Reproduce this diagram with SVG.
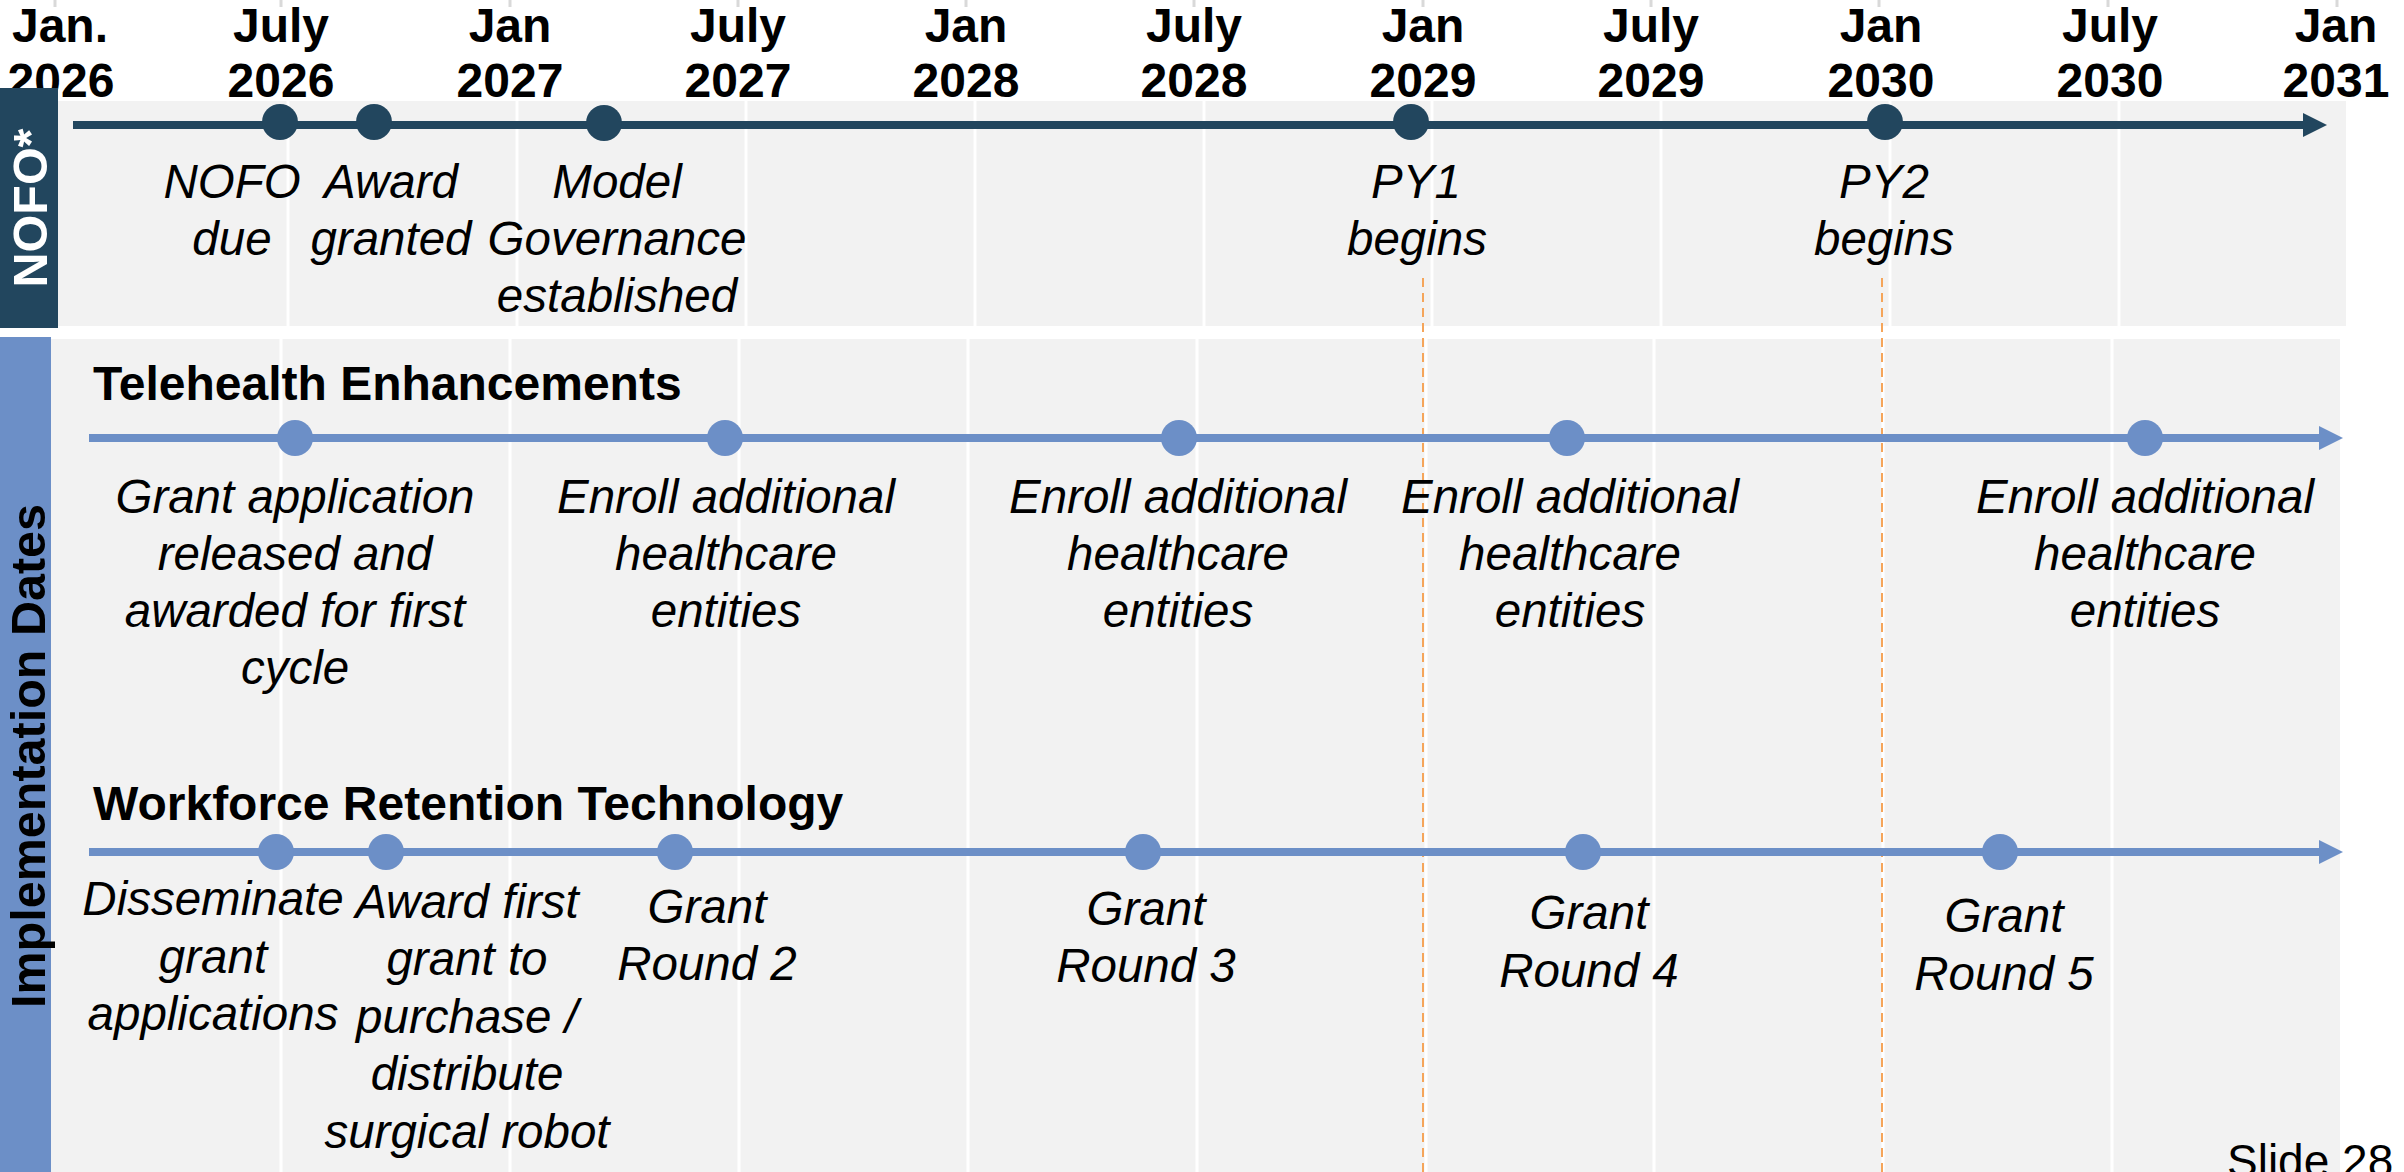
<svg xmlns="http://www.w3.org/2000/svg" width="2404" height="1172" viewBox="0 0 2404 1172">
<style>
.hdr{font-family:"Liberation Sans",Arial,sans-serif;font-weight:bold;font-size:48px;fill:#000;text-anchor:middle}
.lbl{font-family:"Liberation Sans",Arial,sans-serif;font-style:italic;font-size:47.5px;fill:#000;text-anchor:middle}
.ttl{font-family:"Liberation Sans",Arial,sans-serif;font-weight:bold;font-size:48px;fill:#000}
.side{font-family:"Liberation Sans",Arial,sans-serif;font-weight:bold;font-size:48.5px;text-anchor:middle}
.grid{stroke:#ffffff;stroke-width:3}
.tick{stroke:#D9D9D9;stroke-width:3}
.dash{stroke:#F5A55A;stroke-width:2;stroke-dasharray:9 6}
.dk{fill:#22465E}
.bl{fill:#6C8FC7}
</style>
<defs>
<marker id="arrDk" markerUnits="userSpaceOnUse" markerWidth="24" markerHeight="24" refX="0" refY="12" orient="auto"><path d="M0,0 L24,12 L0,24 z" fill="#22465E"/></marker>
<marker id="arrBl" markerUnits="userSpaceOnUse" markerWidth="24" markerHeight="24" refX="0" refY="12" orient="auto"><path d="M0,0 L24,12 L0,24 z" fill="#6C8FC7"/></marker>
</defs>
<rect width="2404" height="1172" fill="#ffffff"/>

<g id="header">
<line class="tick" x1="55" y1="0" x2="55" y2="7"/>
<line class="tick" x1="281" y1="0" x2="281" y2="7"/>
<line class="tick" x1="510" y1="0" x2="510" y2="7"/>
<line class="tick" x1="738" y1="0" x2="738" y2="7"/>
<line class="tick" x1="966" y1="0" x2="966" y2="7"/>
<line class="tick" x1="1194" y1="0" x2="1194" y2="7"/>
<line class="tick" x1="1423" y1="0" x2="1423" y2="7"/>
<line class="tick" x1="1651" y1="0" x2="1651" y2="7"/>
<line class="tick" x1="1879" y1="0" x2="1879" y2="7"/>
<line class="tick" x1="2108" y1="0" x2="2108" y2="7"/>
<line class="tick" x1="2337" y1="0" x2="2337" y2="7"/>
<text class="hdr" x="60" y="42">Jan.</text><text class="hdr" x="61" y="97">2026</text>
<text class="hdr" x="281" y="42">July</text><text class="hdr" x="281" y="97">2026</text>
<text class="hdr" x="510" y="42">Jan</text><text class="hdr" x="510" y="97">2027</text>
<text class="hdr" x="738" y="42">July</text><text class="hdr" x="738" y="97">2027</text>
<text class="hdr" x="966" y="42">Jan</text><text class="hdr" x="966" y="97">2028</text>
<text class="hdr" x="1194" y="42">July</text><text class="hdr" x="1194" y="97">2028</text>
<text class="hdr" x="1423" y="42">Jan</text><text class="hdr" x="1423" y="97">2029</text>
<text class="hdr" x="1651" y="42">July</text><text class="hdr" x="1651" y="97">2029</text>
<text class="hdr" x="1881" y="42">Jan</text><text class="hdr" x="1881" y="97">2030</text>
<text class="hdr" x="2110" y="42">July</text><text class="hdr" x="2110" y="97">2030</text>
<text class="hdr" x="2336" y="42">Jan</text><text class="hdr" x="2336" y="97">2031</text>
</g>

<g id="nofo-panel">
<rect x="58" y="101" width="2288" height="225" fill="#F2F2F2"/>
<line class="grid" x1="288" y1="101" x2="288" y2="326"/>
<line class="grid" x1="517" y1="101" x2="517" y2="326"/>
<line class="grid" x1="746" y1="101" x2="746" y2="326"/>
<line class="grid" x1="975" y1="101" x2="975" y2="326"/>
<line class="grid" x1="1204" y1="101" x2="1204" y2="326"/>
<line class="grid" x1="1432" y1="101" x2="1432" y2="326"/>
<line class="grid" x1="1661" y1="101" x2="1661" y2="326"/>
<line class="grid" x1="1890" y1="101" x2="1890" y2="326"/>
<line class="grid" x1="2119" y1="101" x2="2119" y2="326"/>
<rect class="dk" x="0" y="88" width="58" height="240"/>
<text class="side" fill="#ffffff" transform="translate(47,208) rotate(-90)">NOFO*</text>
</g>

<g id="impl-panel">
<rect x="51" y="339" width="2289" height="833" fill="#F2F2F2"/>
<line class="grid" x1="281" y1="339" x2="281" y2="1172"/>
<line class="grid" x1="510" y1="339" x2="510" y2="1172"/>
<line class="grid" x1="739" y1="339" x2="739" y2="1172"/>
<line class="grid" x1="968" y1="339" x2="968" y2="1172"/>
<line class="grid" x1="1197" y1="339" x2="1197" y2="1172"/>
<line class="grid" x1="1426" y1="339" x2="1426" y2="1172"/>
<line class="grid" x1="1654" y1="339" x2="1654" y2="1172"/>
<line class="grid" x1="1883" y1="339" x2="1883" y2="1172"/>
<line class="grid" x1="2112" y1="339" x2="2112" y2="1172"/>
<rect class="bl" x="0" y="337" width="51" height="835"/>
<text class="side" fill="#000000" transform="translate(45,756) rotate(-90)">Implementation Dates</text>
</g>

<g id="py-markers">
<line class="dash" x1="1423" y1="278" x2="1423" y2="1172"/>
<line class="dash" x1="1882" y1="278" x2="1882" y2="1172"/>
</g>

<g id="connectors">
<line x1="73" y1="125" x2="2303" y2="125" stroke="#22465E" stroke-width="8" marker-end="url(#arrDk)"/>
<line x1="89" y1="438" x2="2319" y2="438" stroke="#6C8FC7" stroke-width="8" marker-end="url(#arrBl)"/>
<line x1="89" y1="852" x2="2319" y2="852" stroke="#6C8FC7" stroke-width="8" marker-end="url(#arrBl)"/>
</g>

<g id="nofo-due"><circle class="dk" cx="280" cy="122" r="18"/><text class="lbl" x="232" y="198">NOFO</text><text class="lbl" x="232" y="255">due</text></g>
<g id="award-granted"><circle class="dk" cx="374" cy="122" r="18"/><text class="lbl" x="391" y="198">Award</text><text class="lbl" x="391" y="255">granted</text></g>
<g id="model-governance"><circle class="dk" cx="604" cy="123" r="18"/><text class="lbl" x="617" y="198">Model</text><text class="lbl" x="617" y="255">Governance</text><text class="lbl" x="617" y="312">established</text></g>
<g id="py1"><circle class="dk" cx="1411" cy="122" r="18"/><text class="lbl" x="1416" y="198">PY1</text><text class="lbl" x="1417" y="255">begins</text></g>
<g id="py2"><circle class="dk" cx="1885" cy="122" r="18"/><text class="lbl" x="1884" y="198">PY2</text><text class="lbl" x="1884" y="255">begins</text></g>

<g id="telehealth-title"><text class="ttl" x="93" y="400">Telehealth Enhancements</text></g>
<g id="th-1"><circle class="bl" cx="295" cy="438" r="18"/><text class="lbl" x="295" y="513">Grant application</text><text class="lbl" x="295" y="570">released and</text><text class="lbl" x="295" y="627">awarded for first</text><text class="lbl" x="295" y="684">cycle</text></g>
<g id="th-2"><circle class="bl" cx="725" cy="438" r="18"/><text class="lbl" x="726" y="513">Enroll additional</text><text class="lbl" x="726" y="570">healthcare</text><text class="lbl" x="726" y="627">entities</text></g>
<g id="th-3"><circle class="bl" cx="1179" cy="438" r="18"/><text class="lbl" x="1178" y="513">Enroll additional</text><text class="lbl" x="1178" y="570">healthcare</text><text class="lbl" x="1178" y="627">entities</text></g>
<g id="th-4"><circle class="bl" cx="1567" cy="438" r="18"/><text class="lbl" x="1570" y="513">Enroll additional</text><text class="lbl" x="1570" y="570">healthcare</text><text class="lbl" x="1570" y="627">entities</text></g>
<g id="th-5"><circle class="bl" cx="2145" cy="438" r="18"/><text class="lbl" x="2145" y="513">Enroll additional</text><text class="lbl" x="2145" y="570">healthcare</text><text class="lbl" x="2145" y="627">entities</text></g>

<g id="workforce-title"><text class="ttl" x="93" y="820">Workforce Retention Technology</text></g>
<g id="wf-1"><circle class="bl" cx="276" cy="852" r="18"/><text class="lbl" x="213" y="915">Disseminate</text><text class="lbl" x="213" y="973">grant</text><text class="lbl" x="213" y="1030">applications</text></g>
<g id="wf-2"><circle class="bl" cx="386" cy="852" r="18"/><text class="lbl" x="467" y="918">Award first</text><text class="lbl" x="467" y="975">grant to</text><text class="lbl" x="467" y="1033">purchase /</text><text class="lbl" x="467" y="1090">distribute</text><text class="lbl" x="467" y="1148">surgical robot</text></g>
<g id="wf-3"><circle class="bl" cx="675" cy="852" r="18"/><text class="lbl" x="707" y="923">Grant</text><text class="lbl" x="707" y="980">Round 2</text></g>
<g id="wf-4"><circle class="bl" cx="1143" cy="852" r="18"/><text class="lbl" x="1146" y="925">Grant</text><text class="lbl" x="1146" y="982">Round 3</text></g>
<g id="wf-5"><circle class="bl" cx="1583" cy="852" r="18"/><text class="lbl" x="1589" y="929">Grant</text><text class="lbl" x="1589" y="987">Round 4</text></g>
<g id="wf-6"><circle class="bl" cx="2000" cy="852" r="18"/><text class="lbl" x="2004" y="932">Grant</text><text class="lbl" x="2004" y="990">Round 5</text></g>

<g id="footer"><text x="2227" y="1177" font-family="Liberation Sans, Arial, sans-serif" font-size="46" fill="#000">Slide 28</text></g>
</svg>
